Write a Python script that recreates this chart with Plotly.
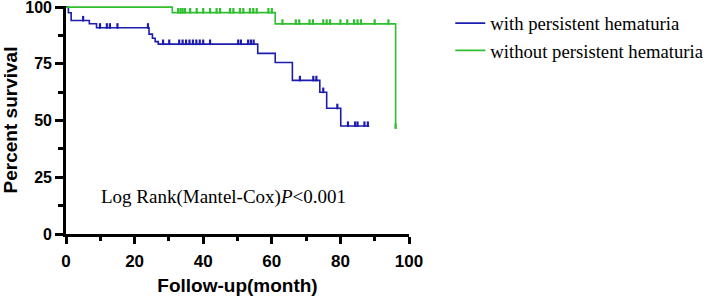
import numpy as np
import plotly.graph_objects as go

# ---- data ----
blue_name = "with persistent hematuria"
green_name = "without persistent hematuria"

# step events: time (month) and survival (%) after each step
blue_times = [0, 0.7, 1.5, 6.8, 8.9, 24.2, 25.2, 26.0, 26.9, 55.9, 61.0, 66.0, 74.0, 76.0, 80.1, 88.4]
blue_surv = [100, 97.5, 94.1, 92.7, 90.9, 88.1, 86.3, 84.8, 83.7, 79.6, 75.6, 67.7, 62.5, 55.4, 47.6, 47.6]
blue_censor = [5.0, 9.9, 11.9, 12.8, 15.0, 23.9, 28.3, 30.1, 33.0, 34.0, 35.0, 36.0, 37.0, 38.0,
               39.0, 40.0, 42.0, 50.2, 51.0, 53.1, 53.9, 54.7, 68.2, 72.1, 73.0, 75.0, 79.1,
               82.2, 84.3, 85.0, 87.0, 88.0]

green_times = [0, 31.0, 61.0, 96.1]
green_surv = [100, 97.6, 92.6, 46.7]
green_censor = [2.6, 3.3, 4.0, 4.6, 5.3, 6.0, 6.6, 7.3, 8.0, 12.0, 12.8, 13.8, 15.7, 17.2, 18.7,
                19.6, 22.1, 23.0, 26.4, 27.2, 28.0, 28.9, 29.8,
                32.7, 33.4, 34.0, 34.7, 36.2, 38.1, 40.0, 42.0, 43.9, 44.9, 47.8, 48.8, 50.7,
                51.7, 53.6, 54.6, 55.6, 59.0, 60.0,
                63.1, 67.0, 68.0, 71.0, 72.0, 75.0, 76.0, 77.0, 80.0, 82.0, 84.0, 85.0, 86.0,
                90.0, 94.0, 96.1]

x_ticks = [0, 20, 40, 60, 80, 100]
y_ticks = [0, 25, 50, 75, 100]

annotation_text = "Log Rank(Mantel-Cox)<i>P</i>&lt;0.001"
x_title = "Follow-up(month)"
y_title = "Percent survival"

BLUE = "#1c1cb0"
GREEN = "#2fbf2f"


def surv_at(times, surv, t):
    idx = np.searchsorted(np.array(times), t, side="right") - 1
    return np.array(surv)[idx]


fig = go.Figure()
for name, times, surv, cens, col in [
    (blue_name, blue_times, blue_surv, blue_censor, BLUE),
    (green_name, green_times, green_surv, green_censor, GREEN),
]:
    fig.add_trace(go.Scatter(x=times, y=surv, mode="lines", line_shape="hv",
                             line=dict(color=col, width=1.6), name=name))
    cy = surv_at(times, surv, np.array(cens))
    fig.add_trace(go.Scatter(x=cens, y=cy + 0.8, mode="markers", showlegend=False,
                             cliponaxis=False,
                             marker=dict(symbol="line-ns", size=4,
                                         line=dict(color=col, width=2.2))))

fig.add_annotation(x=9.6, y=16.5, xref="x", yref="y", text=annotation_text,
                   showarrow=False, xanchor="left", yanchor="middle",
                   font=dict(family="Liberation Serif, Times New Roman", size=19, color="black"))

x_font = dict(family="Liberation Sans, Arial", size=17, color="black", weight="bold")
y_font = dict(family="Liberation Sans, Arial", size=16, color="black", weight="bold")
title_font = dict(family="Liberation Sans, Arial", size=19, color="black", weight="bold")

fig.update_xaxes(range=[0, 100], tickvals=x_ticks, ticktext=[str(v) for v in x_ticks],
                 ticks="outside", ticklabeloverflow="allow", automargin=False,
                 ticklabelstandoff=3,
                 ticklen=7, tickwidth=2.5, tickcolor="black", showline=True, linewidth=2.7,
                 linecolor="black", showgrid=False, zeroline=False,
                 tickfont=x_font,
                 title=dict(text=x_title, font=title_font, standoff=10),
                 minor=dict(dtick=10, tick0=0, ticks="outside", ticklen=4, tickwidth=2.5,
                            tickcolor="black", showgrid=False))
fig.update_yaxes(range=[0, 100.5], tickvals=y_ticks, ticktext=[str(v) for v in y_ticks],
                 ticks="outside", ticklabeloverflow="allow", automargin=False,
                 ticklen=8, tickwidth=2.5, tickcolor="black", showline=True, linewidth=2.7,
                 linecolor="black", showgrid=False, zeroline=False,
                 tickfont=y_font,
                 title=dict(text=y_title, font=title_font, standoff=15),
                 minor=dict(dtick=12.5, tick0=0, ticks="outside", ticklen=5, tickwidth=2.5,
                            tickcolor="black", showgrid=False))

fig.update_layout(
    width=708, height=296,
    margin=dict(l=66, r=299, t=6, b=62, autoexpand=False),
    plot_bgcolor="white", paper_bgcolor="white",
    showlegend=True,
    legend=dict(x=0.636, y=0.985, xref="container", yref="container",
                xanchor="left", yanchor="top",
                font=dict(family="Liberation Serif, Times New Roman", size=18.7, color="black"),
                bgcolor="rgba(0,0,0,0)", itemwidth=30, tracegroupgap=0),
)

fig.write_html("out.html")
